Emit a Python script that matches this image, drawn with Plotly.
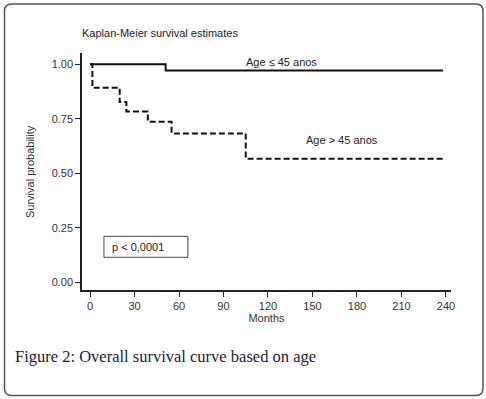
import plotly.graph_objects as go

# Data
months_le45 = [0, 51, 238]
surv_le45 = [1.0, 0.972, 0.972]

months_gt45 = [0, 1.6, 20, 24.5, 39, 55, 105, 238]
surv_gt45 = [1.0, 0.893, 0.827, 0.784, 0.737, 0.683, 0.567, 0.567]

x_ticks = [0, 30, 60, 90, 120, 150, 180, 210, 240]
y_ticks = [0.0, 0.25, 0.5, 0.75, 1.0]
y_tick_labels = ["0.00", "0.25", "0.50", "0.75", "1.00"]

W, H = 486, 399
L, R, T, B = 82, 35, 53, 109
PW, PH = W - L - R, H - T - B


def px_x(px):
    return (px - L) / PW


def px_y(py):
    return (H - B - py) / PH


fig = go.Figure()
fig.add_trace(go.Scatter(x=months_le45, y=surv_le45, mode="lines", line_shape="hv",
                         line=dict(color="#111111", width=2), showlegend=False, hoverinfo="skip"))
fig.add_trace(go.Scatter(x=months_gt45, y=surv_gt45, mode="lines", line_shape="hv",
                         line=dict(color="#111111", width=2, dash="6px,3px"), showlegend=False, hoverinfo="skip"))

font_sans = "Liberation Sans, Arial, sans-serif"

fig.update_layout(
    width=W, height=H,
    margin=dict(l=L, r=R, t=T, b=B),
    paper_bgcolor="white", plot_bgcolor="white",
    xaxis=dict(range=[-5.4, 243.4], tickvals=x_ticks, showgrid=False, zeroline=False,
               showline=True, linecolor="#222", linewidth=1.5, ticks="outside", ticklen=5,
               tickcolor="#222", tickfont=dict(family=font_sans, size=11, color="#333"),
               title=dict(text="Months", font=dict(family=font_sans, size=11, color="#333"), standoff=3)),
    yaxis=dict(range=[-0.035, 1.052], tickvals=y_ticks, ticktext=y_tick_labels, showgrid=False,
               zeroline=False, showline=True, linecolor="#222", linewidth=1.5, ticks="outside",
               ticklen=5, tickcolor="#222", tickfont=dict(family=font_sans, size=11, color="#333")),
)

# Rounded outer border
x0, x1, y0, y1, r = 4.5, 483, 4, 395.5, 7
path = (f"M {px_x(x0 + r)},{px_y(y0)} L {px_x(x1 - r)},{px_y(y0)} "
        f"Q {px_x(x1)},{px_y(y0)} {px_x(x1)},{px_y(y0 + r)} "
        f"L {px_x(x1)},{px_y(y1 - r)} Q {px_x(x1)},{px_y(y1)} {px_x(x1 - r)},{px_y(y1)} "
        f"L {px_x(x0 + r)},{px_y(y1)} Q {px_x(x0)},{px_y(y1)} {px_x(x0)},{px_y(y1 - r)} "
        f"L {px_x(x0)},{px_y(y0 + r)} Q {px_x(x0)},{px_y(y0)} {px_x(x0 + r)},{px_y(y0)} Z")
fig.add_shape(type="path", path=path, xref="paper", yref="paper",
              line=dict(color="#555", width=1.5))

# p-value box
fig.add_shape(type="rect", xref="x", yref="y", x0=9.4, x1=66, y0=0.115, y1=0.211,
              line=dict(color="#444", width=1))

annotations = [
    dict(text="Kaplan-Meier survival estimates", x=px_x(80), y=px_y(33), xanchor="left",
         font=dict(family=font_sans, size=11, color="#222")),
    dict(text="Survival probability", x=px_x(22), y=px_y(172), textangle=-90,
         font=dict(family=font_sans, size=11, color="#333")),
    dict(text="Figure 2: Overall survival curve based on age", x=px_x(13), y=px_y(356),
         xanchor="left", font=dict(family="Liberation Serif, Times New Roman, serif", size=16.5, color="#1c1c3a")),
]
for a in annotations:
    a.update(xref="paper", yref="paper", showarrow=False, yanchor="middle")
    fig.add_annotation(**a)

fig.add_annotation(text="Age ≤ 45 anos", x=128.8, y=1.009, xref="x", yref="y", showarrow=False,
                   font=dict(family=font_sans, size=11, color="#222"))
fig.add_annotation(text="Age > 45 anos", x=169.6, y=0.651, xref="x", yref="y", showarrow=False,
                   font=dict(family=font_sans, size=11, color="#222"))
fig.add_annotation(text="p < 0,0001", x=(110 - 90) / 1.4833, y=0.163, xref="x", yref="y",
                   xanchor="left", showarrow=False, font=dict(family=font_sans, size=11, color="#222"))

fig.write_html("out.html", config={"displayModeBar": False},
               post_script="document.body.style.margin='0';")
